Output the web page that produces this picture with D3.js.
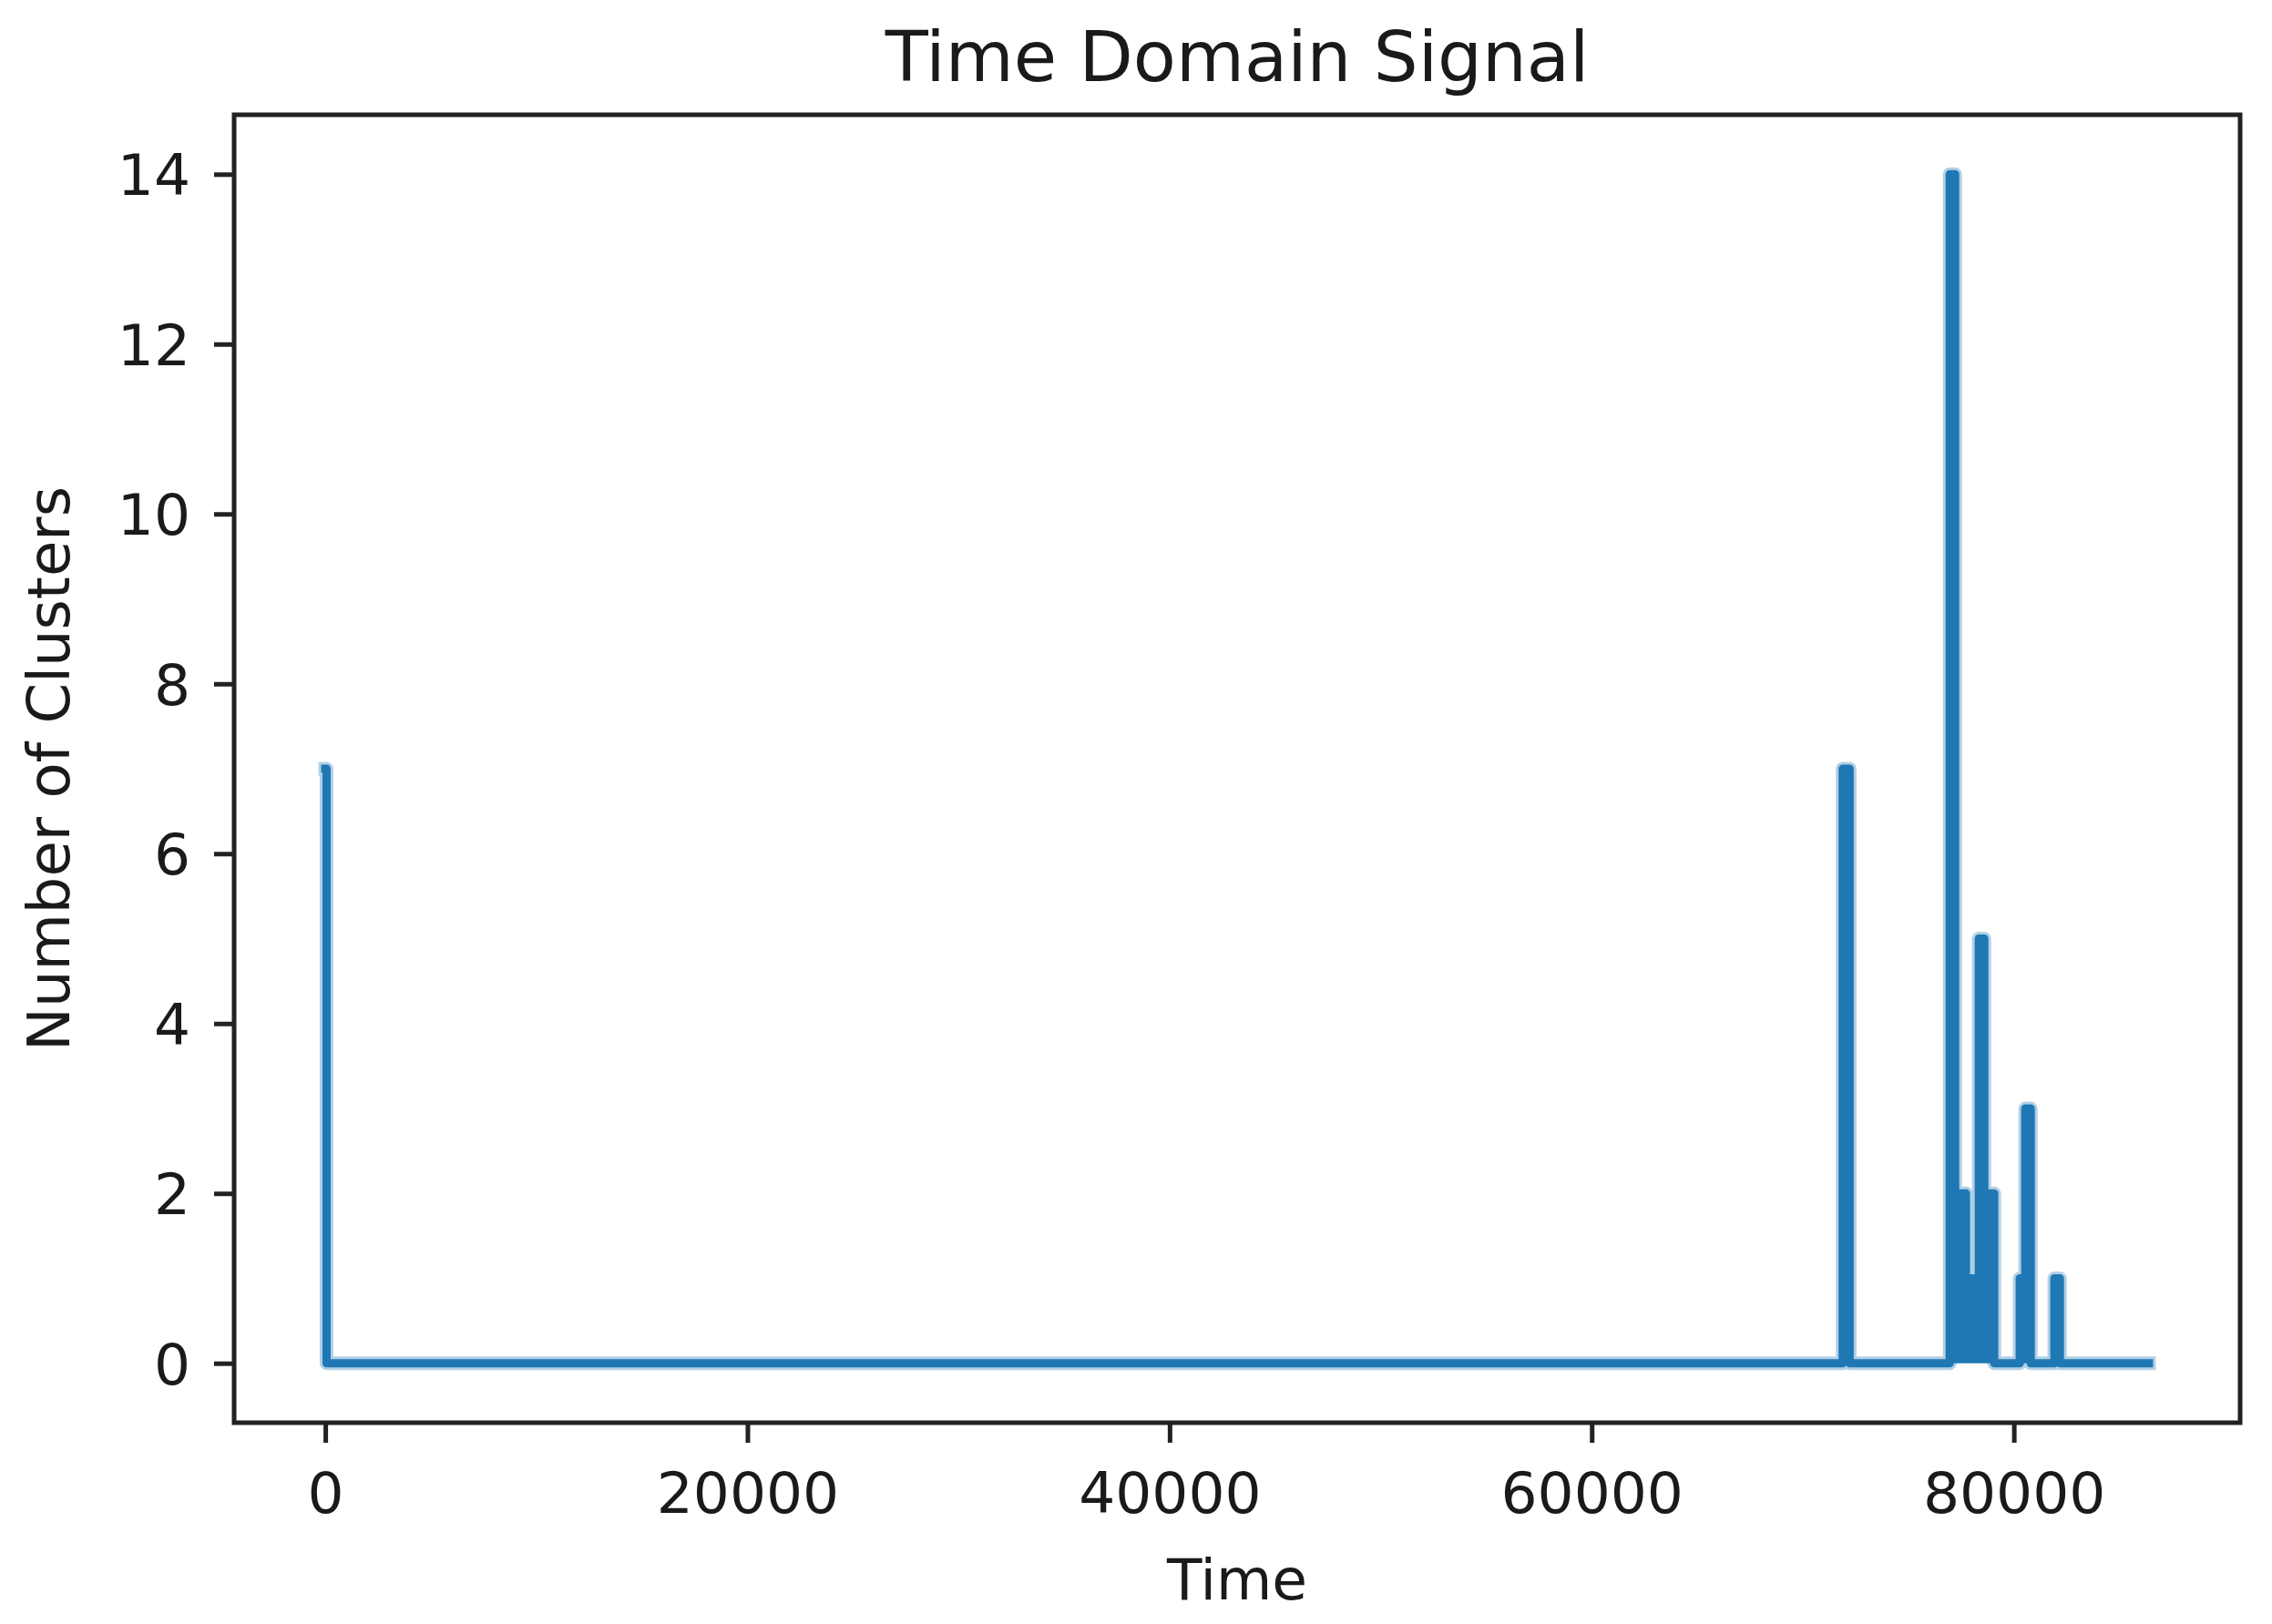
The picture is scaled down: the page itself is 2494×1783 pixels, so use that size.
<!DOCTYPE html>
<html>
<head>
<meta charset="utf-8">
<script src="https://cdn.jsdelivr.net/npm/d3@7"></script>
<style>
  html, body { margin: 0; padding: 0; background: #ffffff; }
  svg { display: block; }
  text { font-family: "DejaVu Sans", sans-serif; fill: #1a1a1a; }
</style>
</head>
<body>
<svg id="chart" width="2494" height="1783"></svg>
<script>
// ---- Data (step changes: value holds from this time until the next) ----
const changeTimes  = [0, 60, 71890, 72220, 76960, 77220, 77730, 78340, 78600, 79070, 80280, 80540, 80800, 81920, 82180, 86400];
const changeValues = [7, 0,  7,     0,     14,    2,     1,     5,     2,     0,     1,     3,     0,     1,     0,     0];
const xTickValues  = [0, 20000, 40000, 60000, 80000];
const yTickValues  = [0, 2, 4, 6, 8, 10, 12, 14];
const titleText  = "Time Domain Signal";
const xLabelText = "Time";
const yLabelText = "Number of Clusters";

(function () {
const points = changeTimes.map((t, i) => ({ t: t, v: changeValues[i] }));

// ---- Layout ----
const svg = d3.select("#chart");
const pLeft = 257, pRight = 2459, pTop = 126, pBottom = 1562;

const x = d3.scaleLinear().domain([-4320, 90720]).range([pLeft, pRight]);
const y = d3.scaleLinear().domain([-0.7, 14.7]).range([pBottom, pTop]);

svg.append("rect").attr("width", 2494).attr("height", 1783).attr("fill", "#ffffff");

// ---- Dense bursts look solid under the curve ----
const area = d3.area()
  .x(d => x(d.t))
  .y0(y(0))
  .y1(d => y(d.v))
  .curve(d3.curveStepAfter);

svg.append("path")
  .datum(points)
  .attr("d", area)
  .attr("fill", "#1f77b4");

// ---- Line ----
const line = d3.line()
  .x(d => x(d.t))
  .y(d => y(d.v))
  .curve(d3.curveStepAfter);

svg.append("path")
  .datum(points)
  .attr("d", line)
  .attr("fill", "none")
  .attr("stroke", "#1f77b4")
  .attr("stroke-opacity", 0.35)
  .attr("stroke-width", 15)
  .attr("stroke-linejoin", "round")
  .attr("stroke-linecap", "square");

svg.append("path")
  .datum(points)
  .attr("d", line)
  .attr("fill", "none")
  .attr("stroke", "#1f77b4")
  .attr("stroke-width", 9)
  .attr("stroke-linejoin", "round")
  .attr("stroke-linecap", "square");

// ---- Axes ----
const xAxis = d3.axisBottom(x).tickValues(xTickValues).tickSize(22).tickPadding(32).tickFormat(d3.format("d"));
const yAxis = d3.axisLeft(y).tickValues(yTickValues).tickSize(22).tickPadding(26).tickFormat(d3.format("d"));

const gx = svg.append("g").attr("transform", `translate(0,${pBottom})`).call(xAxis);
const gy = svg.append("g").attr("transform", `translate(${pLeft},0)`).call(yAxis);

[gx, gy].forEach(g => {
  g.select(".domain").remove();
  g.selectAll(".tick line").attr("stroke", "#222").attr("stroke-width", 5);
  g.selectAll(".tick text")
    .style("font-family", "'DejaVu Sans', sans-serif")
    .style("font-size", "63px")
    .attr("fill", "#1a1a1a");
});
gy.selectAll(".tick text").attr("dy", "0.36em");

// ---- Frame (spines) ----
svg.append("rect")
  .attr("x", pLeft).attr("y", pTop)
  .attr("width", pRight - pLeft).attr("height", pBottom - pTop)
  .attr("fill", "none")
  .attr("stroke", "#222")
  .attr("stroke-width", 5);

// ---- Texts ----
svg.append("text")
  .attr("x", (pLeft + pRight) / 2).attr("y", 89)
  .attr("text-anchor", "middle")
  .style("font-size", "77px")
  .text(titleText);

svg.append("text")
  .attr("x", (pLeft + pRight) / 2).attr("y", 1756)
  .attr("text-anchor", "middle")
  .style("font-size", "63px")
  .text(xLabelText);

svg.append("text")
  .attr("transform", `translate(76,${(pTop + pBottom) / 2}) rotate(-90)`)
  .attr("text-anchor", "middle")
  .style("font-size", "64px")
  .text(yLabelText);
})();
</script>
</body>
</html>
